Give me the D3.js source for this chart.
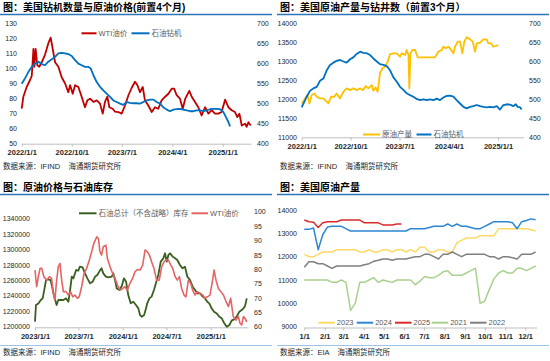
<!DOCTYPE html>
<html>
<head>
<meta charset="utf-8">
<script src="https://cdn.jsdelivr.net/npm/d3@7"></script>
<style>
  body { margin: 0; background: #fff; }
  svg text { font-family: "Liberation Sans", "Noto Sans CJK SC", sans-serif; white-space: pre; }
</style>
</head>
<body>
<svg id="chart" width="550" height="361"></svg>
<script>
// ---- panel 1: rigs vs WTI (rigs lead 4 months)
const wtiP1 = [["2022-01-01",73],["2022-01-10",81],["2022-01-28",87.5],["2022-02-15",92],["2022-02-25",95],["2022-03-06",113],["2022-03-11",101],["2022-03-18",113],["2022-03-27",102],["2022-04-07",101],["2022-04-20",104],["2022-05-08",109],["2022-05-26",116.6],["2022-06-08",120.4],["2022-06-19",113],["2022-07-02",104],["2022-07-20",101],["2022-08-07",94],["2022-08-25",90],["2022-09-12",84],["2022-09-22",88.7],["2022-10-06",83],["2022-10-19",88.7],["2022-11-06",87.5],["2022-11-24",81],["2022-12-12",74],["2022-12-25",78.6],["2023-01-09",79.7],["2023-01-27",77.5],["2023-02-14",78.6],["2023-03-04",76.4],["2023-03-19",69.7],["2023-03-31",77.5],["2023-04-13",81],["2023-04-24",74],["2023-05-12",73],["2023-05-25",71],["2023-06-12",70.8],["2023-06-30",69.7],["2023-07-18",75],["2023-08-06",82],["2023-08-24",87],["2023-09-11",91],["2023-09-24",88.7],["2023-10-08",84],["2023-10-23",87.5],["2023-11-04",78.6],["2023-11-23",75],["2023-12-11",70.8],["2023-12-29",74],["2024-01-16",73],["2024-02-03",78.6],["2024-02-22",81],["2024-03-11",83],["2024-03-29",86.4],["2024-04-11",86.4],["2024-04-25",82],["2024-05-13",79.7],["2024-05-28",73],["2024-06-11",79.7],["2024-07-03",84.9],["2024-07-16",81],["2024-08-03",77.5],["2024-08-21",74],["2024-09-08",68.5],["2024-09-27",74],["2024-10-15",69.7],["2024-11-02",72],["2024-11-20",69.7],["2024-12-08",69.7],["2024-12-26",70.8],["2025-01-14",79],["2025-02-01",74],["2025-02-19",72],["2025-03-09",70.8],["2025-03-22",67.4],["2025-04-02",69.7],["2025-04-15",61.8],["2025-05-03",63],["2025-05-12",61],["2025-05-21",64],["2025-06-03",61.8]];
const rigP1 = [["2022-01-01",549],["2022-01-19",562],["2022-02-06",578],["2022-02-25",591],["2022-03-15",599],["2022-04-02",604],["2022-04-20",598],["2022-05-08",595],["2022-05-26",604],["2022-06-14",610],["2022-07-02",616],["2022-07-20",625],["2022-08-07",626],["2022-08-25",625],["2022-09-12",623],["2022-10-01",618],["2022-10-19",608],["2022-11-06",599],["2022-11-24",595],["2022-12-12",591],["2022-12-30",591],["2023-01-12",587],["2023-01-27",570],["2023-02-14",553],["2023-03-04",541],["2023-03-22",532],["2023-04-09",524],["2023-04-28",516],["2023-05-16",507],["2023-06-03",503],["2023-06-21",499],["2023-07-09",496],["2023-07-27",503],["2023-08-15",501],["2023-09-02",500],["2023-09-20",500],["2023-10-08",499],["2023-10-26",503],["2023-11-14",507],["2023-12-02",509],["2023-12-20",509],["2024-01-07",503],["2024-01-25",499],["2024-02-12",490],["2024-03-02",484],["2024-03-20",480],["2024-04-07",484],["2024-04-25",485],["2024-05-13",486],["2024-05-31",484],["2024-06-19",482],["2024-07-07",480],["2024-07-25",480],["2024-08-12",482],["2024-08-30",482],["2024-09-18",480],["2024-10-06",482],["2024-10-24",485],["2024-11-11",486],["2024-11-29",486],["2024-12-17",485],["2025-01-05",478],["2025-01-19",465],["2025-02-01",453],["2025-02-10",442]];

// ---- panel 2: production vs rigs (rigs lead 3 months)
const prodP2 = [["2022-01-01",11882],["2022-01-20",12015],["2022-02-02",12103],["2022-02-13",11882],["2022-02-26",12103],["2022-03-13",12147],["2022-03-26",12059],["2022-04-13",12015],["2022-05-02",12015],["2022-05-21",11926],["2022-05-30",11882],["2022-06-14",12059],["2022-07-02",12059],["2022-07-15",12147],["2022-08-03",12015],["2022-08-22",12191],["2022-09-09",12279],["2022-09-28",12235],["2022-10-16",12279],["2022-11-04",12235],["2022-11-23",12279],["2022-12-11",12235],["2022-12-24",12341],["2023-01-08",12279],["2023-01-27",12368],["2023-02-05",12218],["2023-02-18",12306],["2023-03-01",12191],["2023-03-14",12676],["2023-03-27",12809],["2023-04-11",12853],["2023-04-26",12985],["2023-05-09",13188],["2023-05-28",13206],["2023-06-15",13206],["2023-07-04",13118],["2023-07-13",13206],["2023-08-01",13162],["2023-08-10",13294],["2023-08-20",13162],["2023-08-25",12279],["2023-08-31",13206],["2023-09-11",13294],["2023-09-26",13294],["2023-10-11",13100],["2023-11-02",13100],["2023-11-30",13100],["2023-12-28",13100],["2024-01-15",13100],["2024-02-03",13250],["2024-02-22",13294],["2024-03-02",13382],["2024-03-15",13338],["2024-03-30",13382],["2024-04-14",13294],["2024-04-27",13206],["2024-05-06",13382],["2024-05-21",13515],["2024-06-03",13515],["2024-06-16",13206],["2024-06-27",13515],["2024-07-10",13630],["2024-07-29",13577],["2024-08-13",13515],["2024-08-26",13250],["2024-09-04",13471],["2024-09-23",13488],["2024-10-11",13577],["2024-10-30",13577],["2024-11-08",13471],["2024-11-23",13471],["2024-12-06",13382],["2024-12-19",13400],["2025-01-03",13427]];
const rigP2 = [["2022-01-01",478],["2022-01-16",493],["2022-01-29",506],["2022-02-17",522],["2022-03-07",528],["2022-03-26",532],["2022-04-13",548],["2022-05-02",554],["2022-05-21",576],["2022-06-08",590],["2022-06-27",596],["2022-07-15",601],["2022-08-03",603],["2022-08-22",599],["2022-09-09",596],["2022-09-28",605],["2022-10-16",610],["2022-11-04",619],["2022-11-23",625],["2022-12-11",622],["2022-12-30",621],["2023-01-18",616],["2023-02-05",607],["2023-02-24",599],["2023-03-14",592],["2023-04-02",590],["2023-04-21",587],["2023-05-09",576],["2023-05-28",557],["2023-06-15",546],["2023-07-04",532],["2023-07-23",524],["2023-08-10",515],["2023-08-29",510],["2023-09-16",506],["2023-10-05",500],["2023-10-24",497],["2023-11-11",499],["2023-11-30",497],["2023-12-19",499],["2024-01-06",497],["2024-01-25",501],["2024-02-12",497],["2024-03-02",504],["2024-03-21",508],["2024-04-08",509],["2024-04-27",506],["2024-05-15",497],["2024-06-03",488],["2024-06-22",479],["2024-07-10",475],["2024-07-29",479],["2024-08-16",481],["2024-09-04",484],["2024-09-23",481],["2024-10-11",479],["2024-10-30",478],["2024-11-17",479],["2024-12-06",478],["2024-12-25",481],["2025-01-12",472],["2025-01-31",484],["2025-02-19",486],["2025-03-09",485],["2025-03-28",481],["2025-04-10",486],["2025-04-21",479],["2025-05-04",478],["2025-05-13",472]];

// ---- panel 3: commercial crude stocks vs WTI
const stockP3 = [["2023-01-01",1206500],["2023-01-05",1228000],["2023-01-15",1230000],["2023-01-25",1234500],["2023-02-02",1236600],["2023-02-07",1245000],["2023-02-16",1260300],["2023-02-25",1261200],["2023-03-07",1260300],["2023-03-16",1247400],["2023-03-22",1238800],["2023-04-01",1228000],["2023-04-08",1234500],["2023-04-18",1234500],["2023-04-29",1234500],["2023-05-10",1236600],["2023-05-20",1232300],["2023-05-27",1247400],["2023-06-03",1264600],["2023-06-10",1262500],["2023-06-21",1273200],["2023-06-30",1272400],["2023-07-07",1277500],["2023-07-18",1276700],["2023-07-28",1268900],["2023-08-07",1262500],["2023-08-18",1256000],["2023-08-29",1258200],["2023-09-08",1264600],["2023-09-17",1266800],["2023-09-28",1272400],["2023-10-05",1275400],["2023-10-12",1268900],["2023-10-23",1264600],["2023-11-02",1263800],["2023-11-16",1264600],["2023-11-23",1268900],["2023-11-30",1260300],["2023-12-07",1249500],["2023-12-18",1247400],["2023-12-28",1252600],["2024-01-06",1262500],["2024-01-15",1258200],["2024-01-24",1240900],["2024-02-03",1230200],["2024-02-14",1232300],["2024-02-25",1228000],["2024-03-06",1223700],["2024-03-13",1215000],["2024-03-20",1212900],["2024-03-30",1215000],["2024-04-07",1223700],["2024-04-12",1230200],["2024-04-21",1236600],["2024-04-30",1238800],["2024-05-10",1247400],["2024-05-18",1256000],["2024-05-28",1266800],["2024-06-07",1284000],["2024-06-18",1288300],["2024-06-25",1294800],["2024-07-02",1284000],["2024-07-09",1292600],["2024-07-16",1294800],["2024-07-27",1290500],["2024-08-06",1288300],["2024-08-15",1286200],["2024-08-26",1279700],["2024-09-06",1275400],["2024-09-16",1277500],["2024-09-26",1264600],["2024-10-07",1260300],["2024-10-18",1251700],["2024-10-28",1247400],["2024-11-06",1243100],["2024-11-18",1243100],["2024-11-29",1238800],["2024-12-08",1236600],["2024-12-18",1232300],["2024-12-26",1230200],["2025-01-05",1223700],["2025-01-15",1219400],["2025-01-26",1217200],["2025-02-06",1212900],["2025-02-16",1210800],["2025-02-25",1205200],["2025-03-09",1200000],["2025-03-20",1202200],["2025-03-29",1207800],["2025-04-08",1209500],["2025-04-19",1212900],["2025-04-30",1219400],["2025-05-10",1221500],["2025-05-17",1223700],["2025-05-24",1226700],["2025-05-31",1236600]];
const wtiP3 = [["2023-01-01",79.7],["2023-01-08",73.9],["2023-01-15",77.4],["2023-01-22",80.3],["2023-01-29",80.3],["2023-02-07",77.4],["2023-02-19",76.2],["2023-03-02",77.4],["2023-03-11",76.8],["2023-03-18",71.6],["2023-03-25",69.3],["2023-04-01",76.2],["2023-04-08",80.9],["2023-04-15",82],["2023-04-22",76.2],["2023-04-29",72.2],["2023-05-10",72.2],["2023-05-20",71],["2023-05-29",72.2],["2023-06-07",70.4],["2023-06-16",71],["2023-06-26",69.9],["2023-07-04",70.4],["2023-07-14",73.9],["2023-07-24",78.5],["2023-08-04",80.3],["2023-08-15",83.2],["2023-08-25",86.1],["2023-09-03",89],["2023-09-15",91.3],["2023-09-22",90.7],["2023-09-28",86.1],["2023-10-05",84.9],["2023-10-12",87.8],["2023-10-23",88.4],["2023-10-29",83.8],["2023-11-09",80.9],["2023-11-20",78.5],["2023-11-30",76.8],["2023-12-10",74.5],["2023-12-21",72.7],["2024-01-01",73.3],["2024-01-10",73.9],["2024-01-20",72.7],["2024-01-31",75.1],["2024-02-11",76.8],["2024-02-21",79.1],["2024-03-02",79.9],["2024-03-13",79.7],["2024-03-24",81.4],["2024-04-03",86.7],["2024-04-12",86.1],["2024-04-21",84.9],["2024-04-30",82.6],["2024-05-10",80.3],["2024-05-21",76.2],["2024-06-01",76.2],["2024-06-11",80.9],["2024-06-21",82.6],["2024-06-29",83.2],["2024-07-09",83.2],["2024-07-19",81.4],["2024-07-27",80.3],["2024-08-06",77.4],["2024-08-15",76.2],["2024-08-24",77.4],["2024-09-02",73.3],["2024-09-12",71],["2024-09-20",70.4],["2024-09-30",76.2],["2024-10-10",75.1],["2024-10-18",72.7],["2024-10-28",71],["2024-11-06",72.2],["2024-11-18",71.6],["2024-11-29",71],["2024-12-08",69.9],["2024-12-18",70.4],["2024-12-29",71],["2025-01-09",76.2],["2025-01-15",79.7],["2025-01-23",76.2],["2025-02-02",73.3],["2025-02-12",72.2],["2025-02-23",71],["2025-03-06",68.7],["2025-03-16",67],["2025-03-25",69.9],["2025-04-05",63.5],["2025-04-16",62.3],["2025-04-26",63.5],["2025-05-03",61.2],["2025-05-10",60.6],["2025-05-17",63.5],["2025-05-24",62.9],["2025-05-31",61.7]];

// ---- panel 4: weekly US crude output by year (week 0 = first week of Jan)
const prod2023 = [12100,12000,12000,12100,12200,12200,12200,12300,12300,12300,12300,12300,12200,12200,12300,12200,12200,12300,12300,12200,12300,12300,12200,12300,12200,12400,12400,12200,12200,12300,12300,12200,12200,12600,12700,12800,12800,12800,12900,12900,12900,12900,13200,13200,13200,13200,13200,13200,13200,13150,13100];
const prod2024 = [13170,13170,13230,12300,12950,13270,13300,13300,13300,13200,13100,13100,13100,13100,13100,13100,13100,13100,13100,13100,13100,13100,13100,13200,13200,13200,13200,13250,13300,13300,13300,13400,13300,13400,13300,13300,13250,13200,13200,13300,13400,13500,13500,13500,13500,13450,13200,13500,13550,13620,13580];
const prod2025 = [13570,13500,13480,13250,13450,13500,13500,13500,13570,13570,13570,13570,13570,13450,13450,13450,13450,13360,13360,13360,13400,13400];
const prod2021 = [11000,11000,11000,11000,11000,11000,10900,10900,11000,10900,9700,10000,10900,10900,11000,11100,10900,11000,10950,10900,11000,11000,11000,11000,10800,10950,11150,11100,11100,11200,11350,11400,11200,11200,11200,11300,11400,11500,10000,10100,10600,11050,11300,11400,11300,11300,11500,11500,11400,11500,11600];
const prod2022 = [11550,11780,11780,11700,11700,11600,11500,11600,11600,11600,11600,11600,11600,11650,11700,11800,11850,11900,11900,11850,11900,11900,11900,11950,12000,12000,12100,12100,12000,11900,12100,12100,12200,12100,12000,12100,12100,12100,12100,12100,12000,12000,11900,12000,12000,11950,11900,12100,12100,12100,12200];

// ---- tick labels
const ticksP1L = [50, 60, 70, 80, 90, 100, 110, 120, 130];
const ticksP1R = [400, 450, 500, 550, 600, 650, 700];
const datesP12 = ["2022-01-01", "2022-10-01", "2023-07-01", "2024-04-01", "2025-01-01"];
const ticksP2L = [11000, 11500, 12000, 12500, 13000, 13500, 14000];
const ticksP2R = [400, 450, 500, 550, 600, 650, 700];
const ticksP3L = [1200000, 1220000, 1240000, 1260000, 1280000, 1300000, 1320000, 1340000];
const ticksP3R = [60, 65, 70, 75, 80, 85, 90, 95, 100];
const datesP3 = ["2023-01-01", "2023-07-01", "2024-01-01", "2024-07-01", "2025-01-01"];
const ticksP4 = [9000, 10000, 11000, 12000, 13000, 14000];
const monthsP4 = ["1/1", "2/1", "3/1", "4/1", "5/1", "6/1", "7/1", "8/1", "9/1", "10/1", "11/1", "12/1"];

const parse = d3.timeParse("%Y-%m-%d");
const fmtDate = d3.timeFormat("%Y/%-m/%-d");
const svg = d3.select("#chart");
const AXIS = "#BFBFBF", INK = "#262626", LEG = "#595959";

function frame(x0, y0, title, source, rule) {
  svg.append("text").attr("x", x0 + 3).attr("y", y0 + 11)
    .attr("font-size", 10).attr("font-weight", "bold").attr("fill", "#000").text(title);
  svg.append("line").attr("x1", x0).attr("x2", x0 + 272).attr("y1", y0 + 14.5).attr("y2", y0 + 14.5)
    .attr("stroke", "#2E75B6").attr("stroke-width", 1.5);
  svg.append("text").attr("x", x0 + 3).attr("y", y0 + (rule ? 175 : 169))
    .attr("font-size", 7.5).attr("fill", INK).text(source);
  if (rule) {
    svg.append("line").attr("x1", x0).attr("x2", x0 + 272).attr("y1", y0 + 165.5).attr("y2", y0 + 165.5)
      .attr("stroke", "#9DC3E6").attr("stroke-width", 1);
  }
}

// time scale pinned by two reference ticks, extended to the axis end
function timeX(d0, px0, d1, px1, endPx) {
  const s = d3.scaleTime().domain([parse(d0), parse(d1)]).range([px0, px1]);
  return s.domain([parse(d0), s.invert(endPx)]).range([px0, endPx]);
}

function styleX(g) {
  g.select(".domain").attr("stroke", AXIS);
  g.selectAll(".tick line").attr("stroke", AXIS);
  g.selectAll("text").attr("font-size", 7.5).attr("font-weight", "bold").attr("fill", INK)
    .attr("font-family", null);
}

function xAxis(scale, y, values, fmt) {
  svg.append("g").attr("transform", `translate(0,${y})`)
    .call(d3.axisBottom(scale).tickValues(values).tickFormat(fmt).tickSize(3).tickSizeOuter(0))
    .call(styleX);
}

function yAxis(scale, x, values, right) {
  const ax = right ? d3.axisRight(scale) : d3.axisLeft(scale);
  const g = svg.append("g").attr("transform", `translate(${x},0)`)
    .call(ax.tickValues(values).tickFormat(d3.format("d")).tickSize(0).tickPadding(0));
  g.select(".domain").remove();
  g.selectAll("text").attr("font-size", 7).attr("fill", INK).attr("font-family", null);
}

function line(data, xs, ys, color, w) {
  svg.append("path").datum(data)
    .attr("fill", "none").attr("stroke", color).attr("stroke-width", w)
    .attr("stroke-linejoin", "round")
    .attr("d", d3.line().x(d => xs(d[0])).y(d => ys(d[1])));
}

function legend(items, y) {
  items.forEach(it => {
    svg.append("line").attr("x1", it.x).attr("x2", it.x + it.len).attr("y1", y).attr("y2", y)
      .attr("stroke", it.color).attr("stroke-width", 2);
    svg.append("text").attr("x", it.x + it.len + 2).attr("y", y + 2.7)
      .attr("font-size", 7.5).attr("fill", LEG).text(it.label);
  });
}

const withDate = arr => arr.map(d => [parse(d[0]), d[1]]);

// ================= panel 1
frame(0, 0, "图：美国钻机数量与原油价格(前置4个月)", "数据来源：IFIND    海通期货研究所", false);
{
  const x = timeX("2022-01-01", 21.7, "2025-01-01", 222.7, 251);
  const yL = d3.scaleLinear().domain([50, 130]).range([143.2, 23.3]);
  const yR = d3.scaleLinear().domain([400, 700]).range([143.2, 23.3]);
  yAxis(yL, 17, ticksP1L, false);
  yAxis(yR, 257, ticksP1R, true);
  xAxis(x, 143.7, datesP12.map(parse), fmtDate);
  line(withDate(wtiP1), x, yL, "#C00000", 1.8);
  line(withDate(rigP1), x, yR, "#0070C0", 1.8);
  legend([{ x: 81.5, len: 15, color: "#C00000", label: "WTI油价" },
          { x: 131.5, len: 18, color: "#0070C0", label: "石油钻机" }], 33.3);
}

// ================= panel 2
frame(277, 0, "图：美国原油产量与钻井数（前置3个月）", "数据来源：IFIND    海通期货研究所", false);
{
  const x = timeX("2022-01-01", 301.7, "2025-01-01", 498, 523.5);
  const yL = d3.scaleLinear().domain([11000, 14000]).range([136.8, 23.3]);
  const yR = d3.scaleLinear().domain([400, 700]).range([136.8, 23.3]);
  yAxis(yL, 297, ticksP2L, false);
  yAxis(yR, 529, ticksP2R, true);
  xAxis(x, 137.3, datesP12.map(parse), fmtDate);
  line(withDate(prodP2), x, yL, "#FFC000", 1.8);
  line(withDate(rigP2), x, yR, "#0070C0", 1.8);
  legend([{ x: 363, len: 17, color: "#FFC000", label: "原油产量" },
          { x: 416.5, len: 15, color: "#0070C0", label: "石油钻机" }], 134.5);
}

// ================= panel 3
frame(0, 180, "图：原油价格与石油库存", "数据来源：IFIND    海通期货研究所", true);
{
  const x = timeX("2023-01-01", 35, "2025-01-01", 210.7, 248);
  const yL = d3.scaleLinear().domain([1200000, 1340000]).range([326.7, 218.3]);
  const yR = d3.scaleLinear().domain([60, 100]).range([326.7, 211.7]);
  yAxis(yL, 30, ticksP3L, false);
  yAxis(yR, 254, ticksP3R, true);
  xAxis(x, 327.3, datesP3.map(parse), fmtDate);
  line(withDate(stockP3), x, yL, "#3A5F1E", 1.8);
  line(withDate(wtiP3), x, yR, "#E46464", 1.6);
  legend([{ x: 79, len: 17.5, color: "#3A5F1E", label: "石油总计（不含战略）库存" },
          { x: 191.5, len: 16.5, color: "#E46464", label: "WTI油价" }], 213.3);
}

// ================= panel 4
frame(277, 180, "图：美国原油产量", "数据来源：EIA    海通期货研究所", true);
{
  const x = d3.scaleLinear().domain([0, 50]).range([304.3, 535.6]);
  const y = d3.scaleLinear().domain([9000, 14000]).range([326.7, 210]);
  yAxis(y, 297, ticksP4, false);
  const monthWeeks = monthsP4.map((m, i) => d3.timeDay.count(new Date(2023, 0, 1), new Date(2023, i, 1)) / 7);
  svg.append("g").attr("transform", "translate(0,327.5)")
    .call(d3.axisBottom(x.copy().domain([0, 50.2]).range([304.3, 536.7]))
      .tickValues(monthWeeks).tickFormat((d, i) => monthsP4[i]).tickSize(3).tickSizeOuter(0))
    .call(styleX);
  const series = [
    { data: prod2023, color: "#FFD966", label: "2023" },
    { data: prod2024, color: "#2E86D2", label: "2024" },
    { data: prod2025, color: "#D92B2B", label: "2025" },
    { data: prod2021, color: "#A9D18E", label: "2021" },
    { data: prod2022, color: "#7F7F7F", label: "2022" }
  ];
  series.forEach(s => line(s.data.map((v, i) => [i, v]), x, y, s.color, 1.5));
  const legX = [318.3, 356.7, 395, 431.7, 470];
  legend(series.map((s, i) => ({ x: legX[i], len: 16.5, color: s.color, label: s.label })), 322.7);
}
</script>
</body>
</html>
